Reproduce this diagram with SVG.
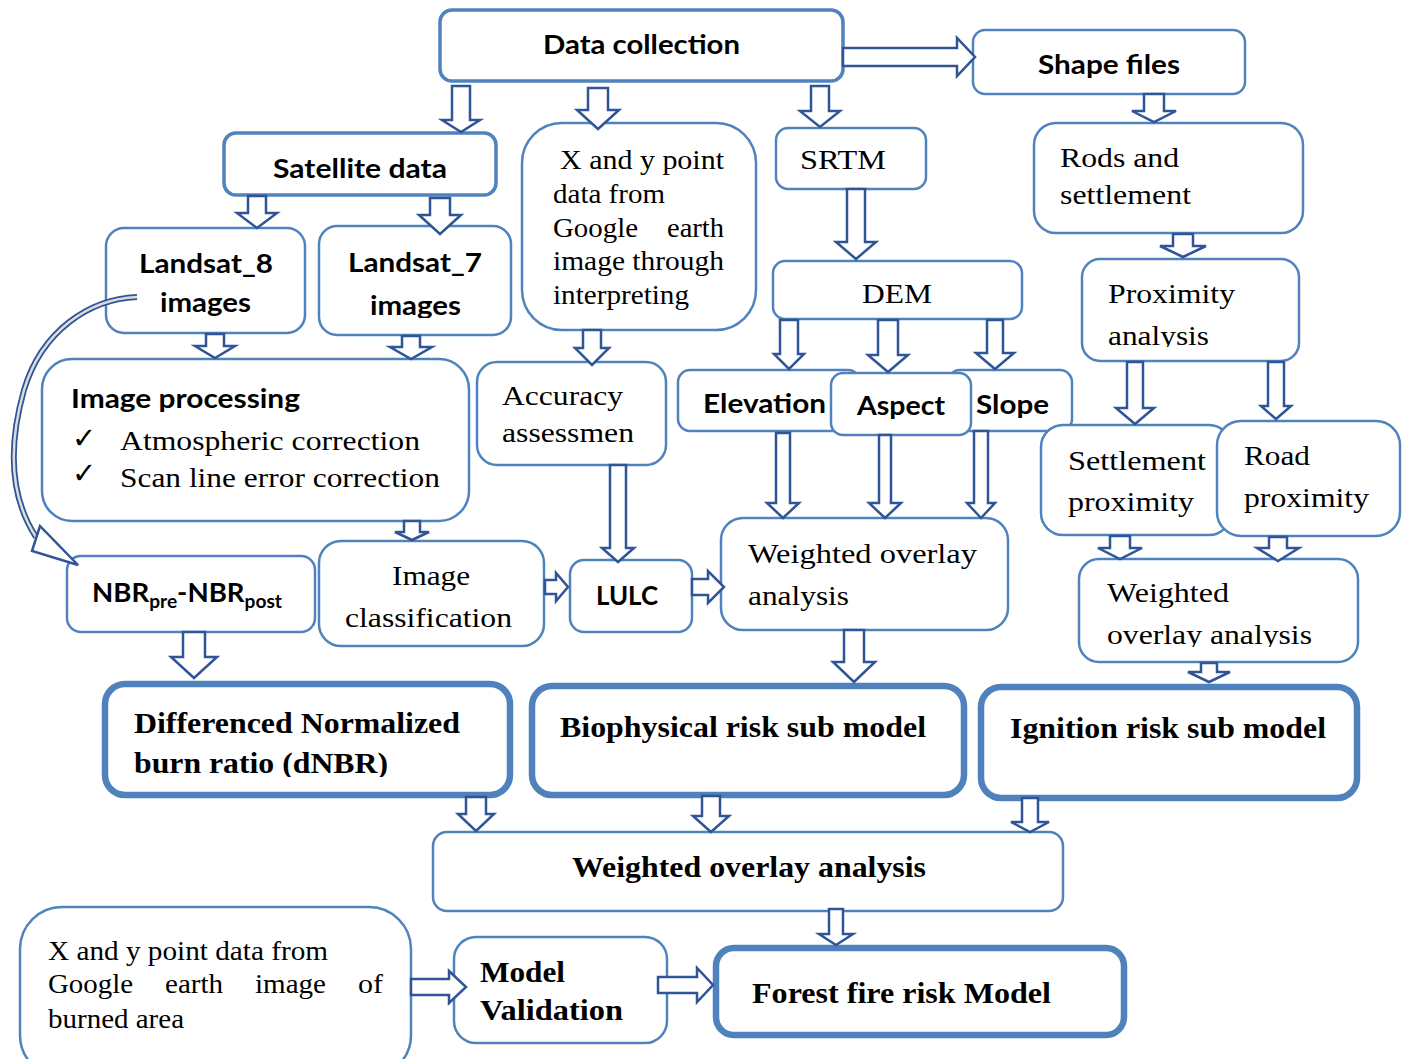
<svg xmlns="http://www.w3.org/2000/svg" width="1408" height="1059" viewBox="0 0 1408 1059">
<style>
.n{fill:#fff;stroke:#5082be;stroke-width:2.5}
.nb{fill:#fff;stroke:#5082be;stroke-width:3.5}
.nt{fill:#fff;stroke:#4f81bd;stroke-width:6.5}
.a{fill:#fff;stroke:#2f5597;stroke-width:2.5;stroke-linejoin:miter}
.sb{font-family:Lato,"Liberation Sans",sans-serif;font-weight:bold;font-size:26px;fill:#000}
.sr{font-family:"Liberation Serif","Times New Roman",serif;font-size:28px;fill:#000}
.srb{font-family:"Liberation Serif","Times New Roman",serif;font-weight:bold;font-size:30px;fill:#000}
.ck{font-family:"DejaVu Sans",sans-serif;font-size:29px;fill:#000}
</style>
<defs>
<clipPath id="c1"><rect x="300" y="200" width="250" height="118"/></clipPath>
<clipPath id="c2"><rect x="1090" y="270" width="200" height="77"/></clipPath>
<clipPath id="c3"><rect x="1090" y="570" width="260" height="77"/></clipPath>
<clipPath id="c4"><rect x="110" y="690" width="400" height="87"/></clipPath>
</defs>
<rect width="1408" height="1059" fill="#fff"/>

<g id="data-collection"><rect class="nb" x="440" y="10" width="403" height="71" rx="12"/><text class="sb" x="543" y="54" textLength="197" lengthAdjust="spacingAndGlyphs">Data collection</text></g>
<g id="shape-files"><rect class="n" x="973" y="30" width="272" height="64" rx="12"/><text class="sb" x="1038" y="74" textLength="142" lengthAdjust="spacingAndGlyphs">Shape files</text></g>
<g id="satellite-data"><rect class="nb" x="224" y="133" width="272" height="62" rx="12"/><text class="sb" x="273" y="178" textLength="174" lengthAdjust="spacingAndGlyphs">Satellite data</text></g>
<g id="xy-google"><rect class="n" x="522" y="123" width="234" height="207" rx="40"/>
<text class="sr" x="560" y="169" textLength="164" lengthAdjust="spacingAndGlyphs">X and y point</text>
<text class="sr" x="553" y="203" textLength="112" lengthAdjust="spacingAndGlyphs">data from</text>
<text class="sr" y="237"><tspan x="553" textLength="85" lengthAdjust="spacingAndGlyphs">Google</tspan><tspan x="667" textLength="57" lengthAdjust="spacingAndGlyphs">earth</tspan></text>
<text class="sr" x="553" y="270" textLength="171" lengthAdjust="spacingAndGlyphs">image through</text>
<text class="sr" x="553" y="304" textLength="136" lengthAdjust="spacingAndGlyphs">interpreting</text></g>
<g id="srtm"><rect class="n" x="776" y="128" width="150" height="61" rx="12"/><text class="sr" x="800" y="169" textLength="86" lengthAdjust="spacingAndGlyphs">SRTM</text></g>
<g id="rods"><rect class="n" x="1034" y="123" width="269" height="110" rx="22"/>
<text class="sr" x="1060" y="167" textLength="119" lengthAdjust="spacingAndGlyphs">Rods and</text>
<text class="sr" x="1060" y="204" textLength="131" lengthAdjust="spacingAndGlyphs">settlement</text></g>
<g id="landsat8"><rect class="n" x="106" y="228" width="199" height="105" rx="18"/>
<text class="sb" x="139" y="273" textLength="134" lengthAdjust="spacingAndGlyphs">Landsat_8</text>
<text class="sb" x="160" y="312" textLength="91" lengthAdjust="spacingAndGlyphs">images</text></g>
<g id="landsat7"><rect class="n" x="319" y="226" width="192" height="109" rx="18"/>
<text class="sb" x="348" y="272" textLength="134" lengthAdjust="spacingAndGlyphs">Landsat_7</text>
<text class="sb" x="370" y="315" textLength="91" lengthAdjust="spacingAndGlyphs" clip-path="url(#c1)">images</text></g>
<g id="dem"><rect class="n" x="773" y="261" width="249" height="58" rx="12"/><text class="sr" x="862" y="303" textLength="70" lengthAdjust="spacingAndGlyphs">DEM</text></g>
<g id="proximity"><rect class="n" x="1082" y="259" width="217" height="102" rx="18"/>
<text class="sr" x="1108" y="303" textLength="127" lengthAdjust="spacingAndGlyphs">Proximity</text>
<text class="sr" x="1108" y="345" textLength="101" lengthAdjust="spacingAndGlyphs" clip-path="url(#c2)">analysis</text></g>
<g id="image-processing"><rect class="n" x="42" y="359" width="427" height="162" rx="30"/>
<text class="sb" x="71" y="408" textLength="229" lengthAdjust="spacingAndGlyphs">Image processing</text>
<text class="ck" x="72" y="448">✓</text>
<text class="sr" x="120" y="450" textLength="300" lengthAdjust="spacingAndGlyphs">Atmospheric correction</text>
<text class="ck" x="72" y="483">✓</text>
<text class="sr" x="120" y="487" textLength="320" lengthAdjust="spacingAndGlyphs">Scan line error correction</text></g>
<g id="accuracy"><rect class="n" x="477" y="362" width="189" height="103" rx="20"/>
<text class="sr" x="502" y="405" textLength="121" lengthAdjust="spacingAndGlyphs">Accuracy</text>
<text class="sr" x="502" y="442" textLength="132" lengthAdjust="spacingAndGlyphs">assessmen</text></g>
<g id="elevation"><rect class="n" x="678" y="370" width="182" height="61" rx="12"/><text class="sb" x="703" y="413" textLength="123" lengthAdjust="spacingAndGlyphs">Elevation</text></g>
<g id="slope"><rect class="n" x="948" y="370" width="124" height="61" rx="12"/><text class="sb" x="976" y="414" textLength="73" lengthAdjust="spacingAndGlyphs">Slope</text></g>
<g id="aspect"><rect class="n" x="831" y="373" width="140" height="62" rx="12"/><text class="sb" x="857" y="415" textLength="88" lengthAdjust="spacingAndGlyphs">Aspect</text></g>
<g id="settlement-proximity"><rect class="n" x="1041" y="425" width="190" height="110" rx="22"/>
<text class="sr" x="1068" y="470" textLength="138" lengthAdjust="spacingAndGlyphs">Settlement</text>
<text class="sr" x="1068" y="511" textLength="126" lengthAdjust="spacingAndGlyphs">proximity</text></g>
<g id="road-proximity"><rect class="n" x="1217" y="421" width="183" height="115" rx="24"/>
<text class="sr" x="1244" y="465" textLength="66" lengthAdjust="spacingAndGlyphs">Road</text>
<text class="sr" x="1244" y="507" textLength="125" lengthAdjust="spacingAndGlyphs">proximity</text></g>
<g id="nbr"><rect class="n" x="67" y="556" width="248" height="76" rx="14"/>
<text class="sb" x="92" y="602" textLength="190" lengthAdjust="spacingAndGlyphs">NBR<tspan dy="6" font-size="18">pre</tspan><tspan dy="-6">-NBR</tspan><tspan dy="6" font-size="18">post</tspan></text></g>
<g id="image-classification"><rect class="n" x="319" y="541" width="225" height="105" rx="22"/>
<text class="sr" x="392" y="585" textLength="78" lengthAdjust="spacingAndGlyphs">Image</text>
<text class="sr" x="345" y="627" textLength="167" lengthAdjust="spacingAndGlyphs">classification</text></g>
<g id="lulc"><rect class="n" x="570" y="560" width="122" height="72" rx="14"/><text class="sb" x="596" y="605" textLength="62" lengthAdjust="spacingAndGlyphs">LULC</text></g>
<g id="weighted-mid"><rect class="n" x="721" y="518" width="287" height="112" rx="22"/>
<text class="sr" x="748" y="563" textLength="229" lengthAdjust="spacingAndGlyphs">Weighted overlay</text>
<text class="sr" x="748" y="605" textLength="101" lengthAdjust="spacingAndGlyphs">analysis</text></g>
<g id="weighted-right"><rect class="n" x="1079" y="559" width="279" height="103" rx="20"/>
<text class="sr" x="1107" y="602" textLength="122" lengthAdjust="spacingAndGlyphs">Weighted</text>
<text class="sr" x="1107" y="644" textLength="205" lengthAdjust="spacingAndGlyphs" clip-path="url(#c3)">overlay analysis</text></g>
<g id="dnbr"><rect class="nt" x="105" y="684" width="405" height="111" rx="20"/>
<text class="srb" x="134" y="733" textLength="326" lengthAdjust="spacingAndGlyphs">Differenced Normalized</text>
<text class="srb" x="134" y="773" textLength="254" lengthAdjust="spacingAndGlyphs" clip-path="url(#c4)">burn ratio (dNBR)</text></g>
<g id="biophysical"><rect class="nt" x="532" y="686" width="432" height="109" rx="20"/>
<text class="srb" x="560" y="737" textLength="366" lengthAdjust="spacingAndGlyphs">Biophysical risk sub model</text></g>
<g id="ignition"><rect class="nt" x="981" y="687" width="376" height="111" rx="20"/>
<text class="srb" x="1010" y="738" textLength="316" lengthAdjust="spacingAndGlyphs">Ignition risk sub model</text></g>
<g id="weighted-bottom"><rect class="n" x="433" y="832" width="630" height="79" rx="14"/>
<text class="srb" x="572" y="877" textLength="354" lengthAdjust="spacingAndGlyphs">Weighted overlay analysis</text></g>
<g id="xy-burned"><rect class="n" x="20" y="907" width="391" height="170" rx="42"/>
<text class="sr" x="48" y="960" textLength="280" lengthAdjust="spacingAndGlyphs">X and y point data from</text>
<text class="sr" y="993"><tspan x="48" textLength="85" lengthAdjust="spacingAndGlyphs">Google</tspan><tspan x="165" textLength="58" lengthAdjust="spacingAndGlyphs">earth</tspan><tspan x="255" textLength="71" lengthAdjust="spacingAndGlyphs">image</tspan><tspan x="358" textLength="25" lengthAdjust="spacingAndGlyphs">of</tspan></text>
<text class="sr" x="48" y="1028" textLength="136" lengthAdjust="spacingAndGlyphs">burned area</text></g>
<g id="model-validation"><rect class="n" x="454" y="937" width="213" height="106" rx="22"/>
<text class="srb" x="480" y="982" textLength="85" lengthAdjust="spacingAndGlyphs">Model</text>
<text class="srb" x="480" y="1020" textLength="143" lengthAdjust="spacingAndGlyphs">Validation</text></g>
<g id="forest-fire"><rect class="nt" x="716" y="948" width="408" height="87" rx="18"/>
<text class="srb" x="752" y="1003" textLength="299" lengthAdjust="spacingAndGlyphs">Forest fire risk Model</text></g>

<g id="connectors">
<path class="a" d="M452,86 H470 V120 H480 L461,132 L442,120 H452 Z"/>
<path class="a" d="M588,88 H608 V110 H619 L598,129 L577,110 H588 Z"/>
<path class="a" d="M811,86 H829 V111 H840 L820,127 L800,111 H811 Z"/>
<path class="a" d="M843,48 H957 V38 L975,57 L957,76 V66 H843 Z"/>
<path class="a" d="M1144,94 H1164 V111 H1176 L1154,122 L1132,111 H1144 Z"/>
<path class="a" d="M847,189 H865 V242 H876 L856,259 L836,242 H847 Z"/>
<path class="a" d="M1173,234 H1193 V246 H1206 L1183,257 L1160,246 H1173 Z"/>
<path class="a" d="M248,196 H266 V213 H277 L257,228 L237,213 H248 Z"/>
<path class="a" d="M430,198 H450 V215 H461 L440,234 L419,215 H430 Z"/>
<path class="a" d="M206,334 H224 V346 H235 L215,358 L195,346 H206 Z"/>
<path class="a" d="M402,336 H420 V347 H432 L411,359 L390,347 H402 Z"/>
<path class="a" d="M583,330 H601 V348 H609 L592,365 L575,348 H583 Z"/>
<path class="a" d="M780,320 H798 V354 H804 L789,369 L774,354 H780 Z"/>
<path class="a" d="M878,320 H898 V355 H908 L888,372 L868,355 H878 Z"/>
<path class="a" d="M987,320 H1003 V353 H1014 L995,369 L976,353 H987 Z"/>
<path class="a" d="M776,433 H790 V503 H799 L783,518 L767,503 H776 Z"/>
<path class="a" d="M879,435 H891 V503 H901 L885,518 L869,503 H879 Z"/>
<path class="a" d="M974,431 H988 V503 H995 L981,518 L967,503 H974 Z"/>
<path class="a" d="M1127,362 H1143 V408 H1154 L1135,424 L1116,408 H1127 Z"/>
<path class="a" d="M1268,362 H1284 V406 H1291 L1276,419 L1261,406 H1268 Z"/>
<path class="a" d="M1110,536 H1130 V548 H1142 L1120,559 L1098,548 H1110 Z"/>
<path class="a" d="M1269,537 H1287 V548 H1299 L1278,561 L1257,548 H1269 Z"/>
<path class="a" d="M1201,663 H1217 V672 H1230 L1209,682 L1188,672 H1201 Z"/>
<path class="a" d="M844,630 H864 V662 H875 L854,682 L833,662 H844 Z"/>
<path class="a" d="M404,521 H420 V532 H429 L412,540 L395,532 H404 Z"/>
<path class="a" d="M610,465 H626 V548 H634 L618,562 L602,548 H610 Z"/>
<path class="a" d="M545,580 H556 V573 L568,587 L556,601 V594 H545 Z"/>
<path class="a" d="M692,579 H708 V571 L724,587 L708,603 V595 H692 Z"/>
<path class="a" d="M183,632 H205 V657 H217 L194,678 L171,657 H183 Z"/>
<path class="a" d="M466,797 H486 V814 H494 L476,831 L458,814 H466 Z"/>
<path class="a" d="M702,796 H720 V816 H729 L711,832 L693,816 H702 Z"/>
<path class="a" d="M1022,798 H1038 V822 H1049 L1030,832 L1011,822 H1022 Z"/>
<path class="a" d="M829,909 H843 V934 H853 L836,945 L819,934 H829 Z"/>
<path class="a" d="M411,979 H449 V971 L466,987 L449,1003 V995 H411 Z"/>
<path class="a" d="M658,977 H697 V968 L713,985 L697,1002 V993 H658 Z"/>
<path d="M137,297 C 90,299 42,330 24,390 C 7,450 12,500 36,537" fill="none" stroke="#2f5597" stroke-width="6"/>
<path d="M137,297 C 90,299 42,330 24,390 C 7,450 12,500 36,537" fill="none" stroke="#dcdcdc" stroke-width="2.5"/>
<polygon points="40,526 78,565 32,551" fill="#fff" stroke="#2f5597" stroke-width="2.5"/>
</g>
</svg>
